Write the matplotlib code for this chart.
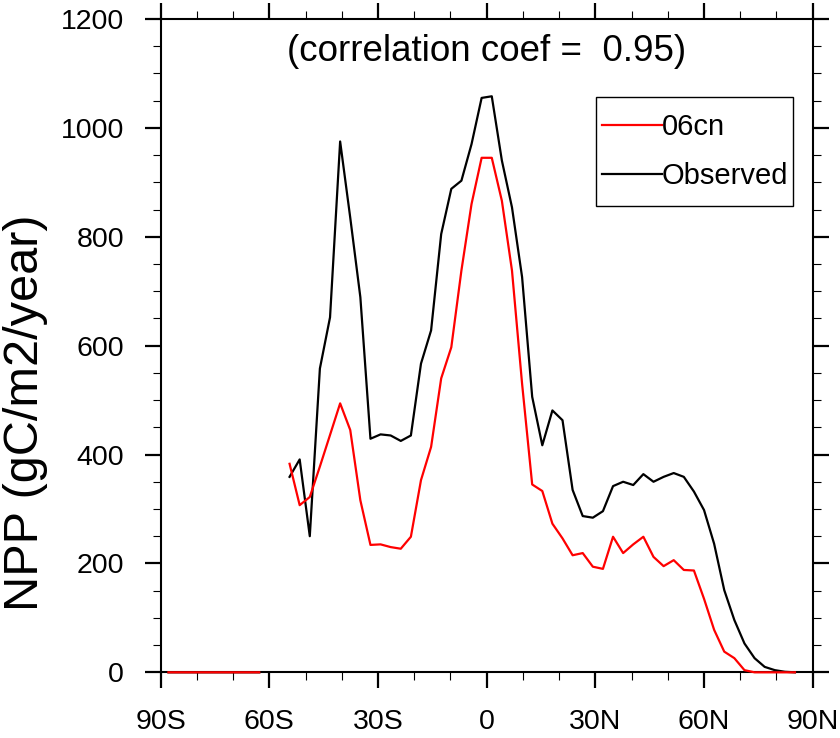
import numpy as np
import matplotlib
matplotlib.use("Agg")
import matplotlib.pyplot as plt
from matplotlib.ticker import MultipleLocator
from matplotlib.patches import Rectangle

plt.rcParams['font.family'] = ['Liberation Sans', 'DejaVu Sans']

# T42 gaussian latitudes, south to north
lats = [-87.86, -85.10, -82.31, -79.53, -76.74, -73.95, -71.16, -68.37,
        -65.58, -62.79, -60.00, -57.21, -54.42, -51.63, -48.84, -46.05,
        -43.25, -40.46, -37.67, -34.88, -32.09, -29.30, -26.51, -23.72,
        -20.93, -18.14, -15.35, -12.56, -9.77, -6.98, -4.19, -1.40,
        1.40, 4.19, 6.98, 9.77, 12.56, 15.35, 18.14, 20.93,
        23.72, 26.51, 29.30, 32.09, 34.88, 37.67, 40.46, 43.25,
        46.05, 48.84, 51.63, 54.42, 57.21, 60.00, 62.79, 65.58,
        68.37, 71.16, 73.95, 76.74, 79.53, 82.31, 85.10, 87.86]

nan = np.nan
npp_obs = [0, 0, 0, 0, 0, 0, 0, 0,
           0, 0, nan, nan, 359, 391, 250, 558,
           652, 975, 835, 689, 429, 437, 435, 425,
           435, 567, 628, 805, 888, 903, 970, 1055,
           1058, 940, 854, 726, 506, 417, 481, 463,
           335, 287, 284, 296, 342, 350, 344, 364,
           350, 359, 366, 359, 332, 298, 236, 151,
           96, 53, 26, 10, 4, 1, 0, nan]
npp_06cn = [0, 0, 0, 0, 0, 0, 0, 0,
            0, 0, nan, nan, 383, 307, 322, 378,
            436, 494, 445, 316, 234, 235, 230, 227,
            249, 353, 414, 540, 597, 738, 860, 945,
            945, 866, 738, 530, 345, 333, 273, 246,
            215, 219, 194, 190, 249, 219, 235, 249,
            212, 195, 206, 188, 187, 135, 78, 38,
            26, 4, 0, 0, 0, 0, 0, nan]

xticks = [-90, -60, -30, 0, 30, 60, 90]
xticklabels = ['90S', '60S', '30S', '0', '30N', '60N', '90N']
corr = 0.95

fig = plt.figure(figsize=(8.4, 7.38), dpi=100)
ax = fig.add_axes([0.1913, 0.0890, 0.7762, 0.8853])

ax.plot(lats, npp_obs, color='black', lw=1.6, label='Observed', zorder=3, clip_on=False)
ax.plot(lats, npp_06cn, color='red', lw=1.6, label='06cn', zorder=3, clip_on=False)

ax.set_xlim(-90, 90)
ax.set_ylim(0, 1200)
ax.set_xticks(xticks)
ax.set_xticklabels(xticklabels)
ax.set_yticks(np.arange(0, 1201, 200))
ax.xaxis.set_minor_locator(MultipleLocator(10))
ax.yaxis.set_minor_locator(MultipleLocator(50))

for s in ax.spines.values():
    s.set_linewidth(1.5)
ax.tick_params(which='both', direction='out', top=True, right=True,
               labelsize=20.5)
ax.tick_params(which='major', length=11.5, width=1.6)
ax.tick_params(which='minor', length=5.5, width=0.8)
ax.tick_params(axis='x', which='major', pad=15)
ax.tick_params(axis='y', which='major', pad=15)

fig.text(26 / 840, 1 - 413 / 738, 'NPP (gC/m2/year)', rotation=90,
         ha='center', va='center', fontsize=35)

ax.text(0.5, 0.95, f'(correlation coef =  {corr:.2f})', transform=ax.transAxes,
        ha='center', va='center', fontsize=26.5)

# legend box drawn separately so the padding can match
ax.add_patch(Rectangle((0.6677, 0.7138), 0.9703 - 0.6677, 0.8801 - 0.7138,
                       transform=ax.transAxes, fill=False, edgecolor='black',
                       lw=1.0, zorder=4))
h, l = ax.get_legend_handles_labels()
leg = ax.legend(h[::-1], l[::-1], loc='center left', bbox_to_anchor=(0.6764, 0.7964),
                borderaxespad=0, fontsize=21, frameon=False,
                handlelength=2.05, handletextpad=0, labelspacing=0.72, borderpad=0)

fig.savefig('out.png', dpi=100)
